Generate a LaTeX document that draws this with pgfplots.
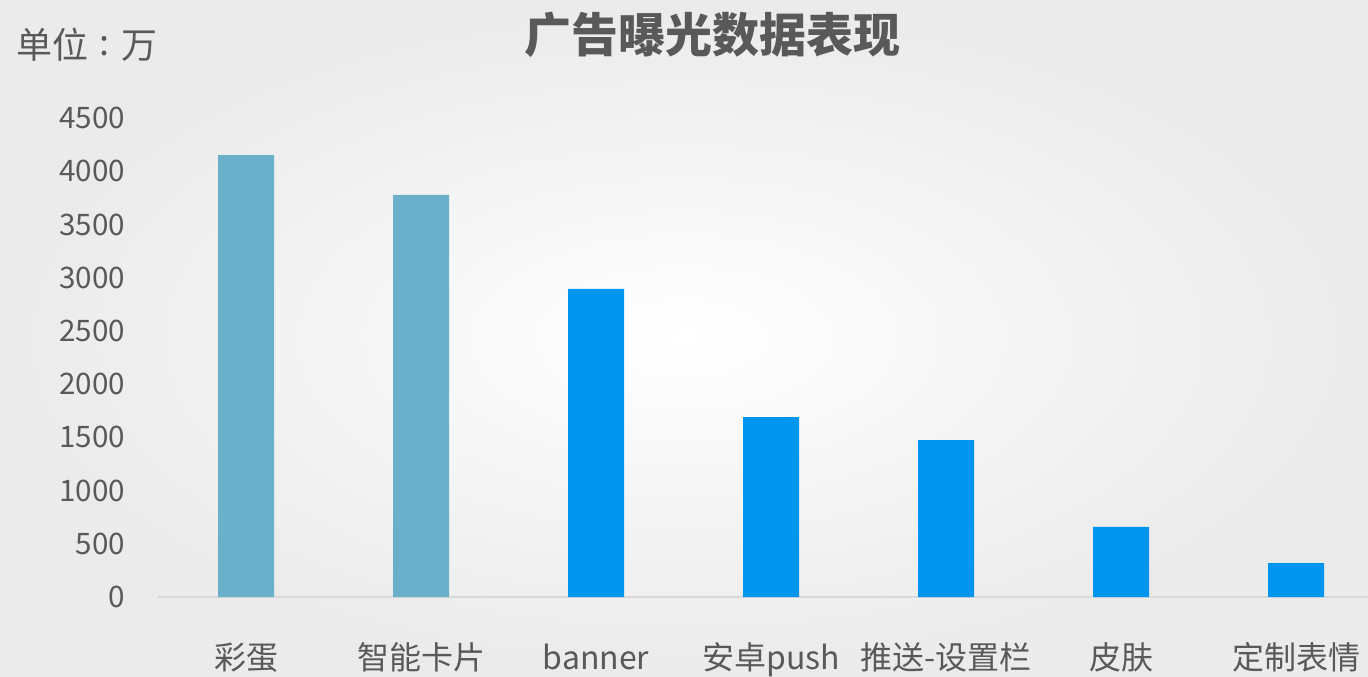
\documentclass[border=0pt]{standalone}
\usepackage{fontspec}
\setmainfont{Noto Sans CJK SC}
\usepackage{pgfplots}
\pgfplotsset{compat=1.18}
\definecolor{barA}{HTML}{6BB0CB}
\definecolor{barB}{HTML}{0096F0}
\definecolor{txt}{HTML}{595959}
\definecolor{axgray}{HTML}{D9D9D9}
\begin{document}
\begin{tikzpicture}
\shade[inner color=white, outer color=black!8] (0,0) rectangle (684pt,338pt);
\begin{axis}[
  at={(79pt,39.5pt)}, anchor=south west,
  scale only axis, width=605pt, height=239.5pt,
  xmin=-0.503, xmax=6.411, ymin=0, ymax=4500,
  ybar, bar width=28pt, bar shift=0pt,
  axis line style={draw=none},
  major tick length=0pt,
  ytick={0,500,...,4500},
  xtick={0,...,6},
  xticklabels={彩蛋,智能卡片,banner,安卓push,推送-设置栏,皮肤,定制表情},
  /pgf/number format/assume math mode=true,
  /pgf/number format/1000 sep={},
  yticklabel style={font=\fontsize{14.8pt}{16pt}\selectfont, text=txt, xshift=-13pt},
  xticklabel style={font=\fontsize{16pt}{18pt}\selectfont, text=txt, anchor=base, yshift=-36pt},
  clip=false,
]
\draw[axgray, line width=1pt] (rel axis cs:0,0) -- (rel axis cs:1,0);
\addplot[fill=barA, draw=none] coordinates {(0,4152) (1,3777)};
\addplot[fill=barB, draw=none] coordinates {(2,2894) (3,1691) (4,1475) (5,658) (6,319)};
\end{axis}
\node[font=\fontsize{23.5pt}{26pt}\bfseries\selectfont, text=txt] at (356pt,320.5pt) {广告曝光数据表现};
\node[font=\fontsize{18pt}{20pt}\selectfont, text=txt, anchor=west, inner sep=0pt] at (8pt,315.5pt) {单位\hspace{0.32em}\raisebox{0.08em}{:}\hspace{0.32em}万};
\pgfresetboundingbox
\path[use as bounding box] (0,0) rectangle (684pt,338pt);
\end{tikzpicture}
\end{document}
